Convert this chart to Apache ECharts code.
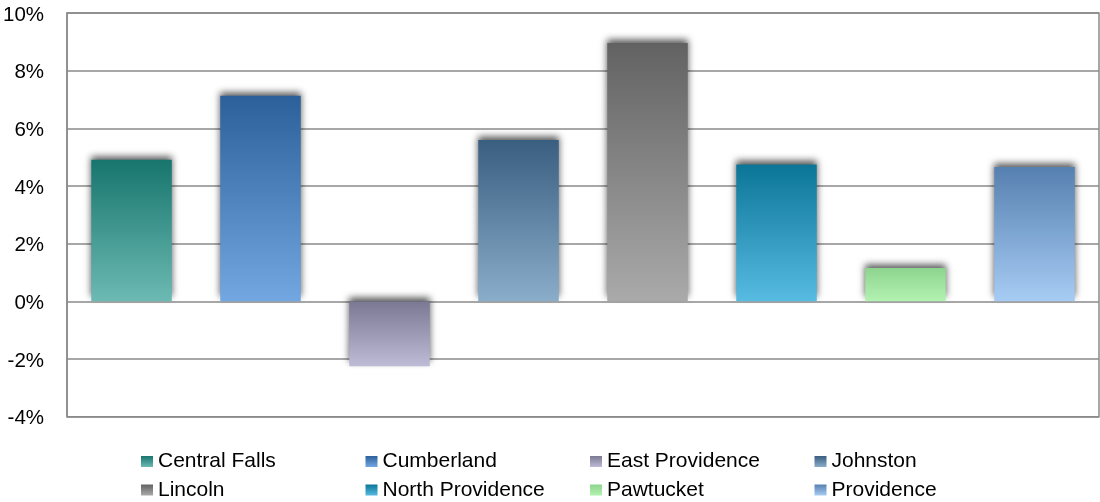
<!DOCTYPE html>
<html>
<head>
<meta charset="utf-8">
<script src="https://cdn.jsdelivr.net/npm/echarts@6/dist/echarts.min.js"></script>
<style>
html,body{margin:0;padding:0;background:#fff;}
#chart{width:1100px;height:502px;}
</style>
</head>
<body>
<div id="chart"></div>
<script>
const categories = ['Central Falls','Cumberland','East Providence','Johnston','Lincoln','North Providence','Pawtucket','Providence'];
const values = [4.91, 7.13, -2.25, 5.6, 8.96, 4.75, 1.16, 4.66];
const yTicks = { min: -4, max: 10, interval: 2 };
const topColors = ['#17756d','#2b609a','#7a7893','#3a5e80','#626262','#0b7597','#8dd48e','#5680b0'];
const bottomColors = ['#6cbab3','#73a7e2','#bebbd7','#8aadca','#aaaaaa','#57bbe2','#b3f2b1','#a7ccf4'];

const FONT = '"Liberation Sans", Arial, sans-serif';

const series = categories.map((name, i) => {
  const data = categories.map((c, j) => j === i ? values[i] : null);
  return {
    name: name,
    type: 'bar',
    stack: 'all',
    barWidth: '62.4%',
    data: data,
    itemStyle: {
      color: new echarts.graphic.LinearGradient(0, 0, 0, 1, [
        { offset: 0, color: topColors[i] },
        { offset: 1, color: bottomColors[i] }
      ]),
      shadowColor: 'rgba(0,0,0,0.65)',
      shadowBlur: 7,
      shadowOffsetY: -4,
      shadowOffsetX: 0
    },
    emphasis: { disabled: true }
  };
});

const legends = categories.map((name, i) => ({
  orient: 'horizontal',
  left: 136 + 224.5 * (i % 4),
  top: i < 4 ? 446 : 474.5,
  itemWidth: 12,
  itemHeight: 11,
  itemGap: 0,
  icon: 'rect',
  selectedMode: false,
  data: [name],
  textStyle: { fontFamily: FONT, fontSize: 21, color: '#000' }
}));

const chart = echarts.init(document.getElementById('chart'), null, { renderer: 'canvas' });
chart.setOption({
  animation: false,
  backgroundColor: '#fff',
  grid: {
    left: 66, right: 1, top: 13, bottom: 85.3,
    show: true, borderColor: '#8a8a8a', borderWidth: 1.5, backgroundColor: 'transparent'
  },
  legend: legends,
  xAxis: {
    type: 'category',
    data: categories,
    axisLine: { show: false },
    axisTick: { show: false },
    axisLabel: { show: false },
    splitLine: { show: false }
  },
  yAxis: {
    type: 'value',
    min: yTicks.min, max: yTicks.max, interval: yTicks.interval,
    axisLine: { show: true, lineStyle: { color: '#8a8a8a', width: 1.5 } },
    axisTick: { show: false },
    axisLabel: {
      formatter: v => v + '%',
      fontFamily: FONT, fontSize: 20.5, color: '#000', margin: 23,
      verticalAlign: 'top', lineHeight: 4
    },
    splitLine: { show: true, lineStyle: { color: '#8a8a8a', width: 1.5 } }
  },
  series: series
});
</script>
</body>
</html>
